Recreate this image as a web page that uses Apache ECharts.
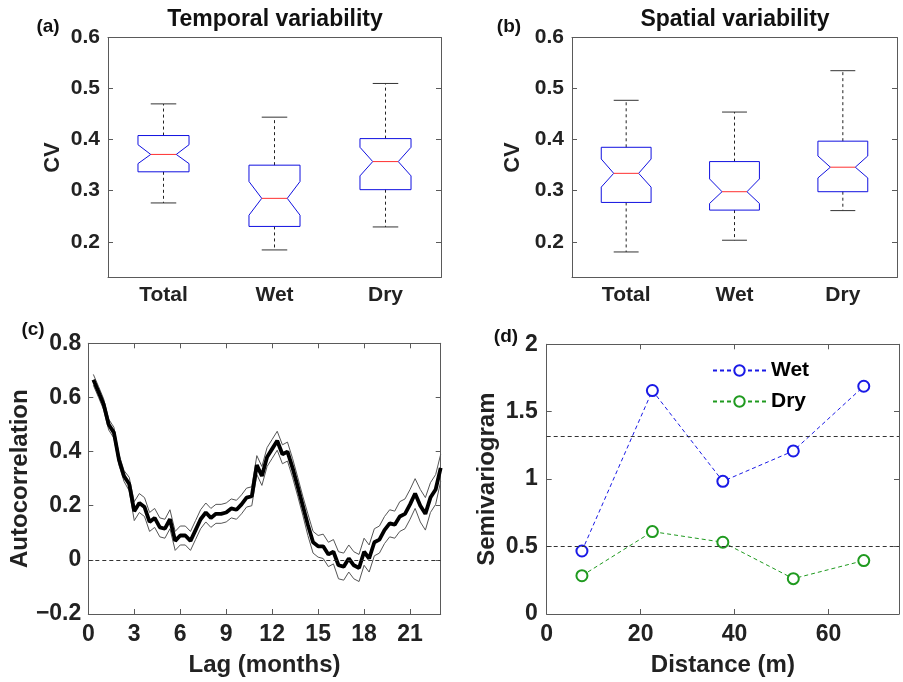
<!DOCTYPE html>
<html><head><meta charset="utf-8">
<script src="https://cdn.jsdelivr.net/npm/echarts@6/dist/echarts.min.js"></script>
<style>html,body{margin:0;padding:0;background:#fff}#c{width:903px;height:682px}</style>
</head><body><div id="c"></div>
<script>
// ---------- DATA ----------
const boxCategories = ['Total', 'Wet', 'Dry'];
// (a) Temporal variability (CV)
const tempLowerWhisker = [0.276, 0.184, 0.229];
const tempQ1           = [0.337, 0.230, 0.302];
const tempNotchLow     = [0.353, 0.252, 0.329];
const tempMedian       = [0.371, 0.285, 0.357];
const tempNotchHigh    = [0.390, 0.318, 0.385];
const tempQ3           = [0.408, 0.350, 0.402];
const tempUpperWhisker = [0.470, 0.444, 0.510];
// (b) Spatial variability (CV)
const spatLowerWhisker = [0.180, 0.203, 0.261];
const spatQ1           = [0.277, 0.262, 0.298];
const spatNotchLow     = [0.307, 0.275, 0.325];
const spatMedian       = [0.334, 0.298, 0.346];
const spatNotchHigh    = [0.362, 0.323, 0.368];
const spatQ3           = [0.385, 0.357, 0.397];
const spatUpperWhisker = [0.477, 0.454, 0.535];
const cvTicks = [0.2, 0.3, 0.4, 0.5, 0.6];

// (c) Autocorrelation vs lag (months)
const lags = [0.33,0.67,1,1.33,1.67,2,2.33,2.67,3,3.33,3.67,4,4.33,4.67,5,5.33,5.67,6,6.33,6.67,7,7.33,7.67,8,8.33,8.67,9,9.33,9.67,10,10.33,10.67,11,11.33,11.67,12,12.33,12.67,13,13.33,13.67,14,14.33,14.67,15,15.33,15.67,16,16.33,16.67,17,17.33,17.67,18,18.33,18.67,19,19.33,19.67,20,20.33,20.67,21,21.33,21.67,22,22.33,22.67,23];
const acfMean = [0.665,0.62,0.575,0.50,0.47,0.37,0.31,0.28,0.18,0.21,0.195,0.14,0.155,0.12,0.115,0.15,0.07,0.09,0.09,0.07,0.11,0.15,0.175,0.155,0.17,0.17,0.175,0.19,0.185,0.205,0.23,0.235,0.35,0.31,0.38,0.41,0.44,0.39,0.40,0.34,0.27,0.20,0.13,0.065,0.05,0.05,0.02,0.03,-0.02,-0.025,0.005,-0.02,-0.03,0.03,0.005,0.065,0.075,0.11,0.135,0.13,0.16,0.17,0.205,0.245,0.20,0.17,0.23,0.26,0.34];
const acfUpper = [0.685,0.64,0.595,0.52,0.49,0.39,0.33,0.305,0.215,0.245,0.23,0.175,0.19,0.155,0.15,0.185,0.105,0.125,0.125,0.105,0.145,0.185,0.21,0.19,0.205,0.205,0.21,0.225,0.22,0.24,0.265,0.27,0.385,0.345,0.415,0.445,0.475,0.425,0.435,0.375,0.305,0.235,0.17,0.105,0.09,0.095,0.065,0.075,0.03,0.025,0.055,0.03,0.02,0.08,0.055,0.115,0.125,0.16,0.185,0.18,0.215,0.225,0.26,0.30,0.26,0.23,0.285,0.315,0.39];
const acfLower = [0.645,0.60,0.555,0.48,0.45,0.35,0.29,0.255,0.145,0.175,0.16,0.105,0.12,0.085,0.08,0.115,0.035,0.055,0.055,0.035,0.075,0.115,0.14,0.12,0.135,0.135,0.14,0.155,0.15,0.17,0.195,0.20,0.315,0.275,0.345,0.375,0.405,0.355,0.365,0.305,0.235,0.165,0.09,0.025,0.01,0.005,-0.025,-0.015,-0.07,-0.075,-0.045,-0.07,-0.08,-0.02,-0.045,0.015,0.025,0.06,0.085,0.08,0.105,0.115,0.15,0.19,0.14,0.11,0.175,0.205,0.29];
const lagTicks = [0, 3, 6, 9, 12, 15, 18, 21];

// (d) Semivariogram vs distance (m)
const distances = [7.5, 22.5, 37.5, 52.5, 67.5];
const wetGamma = [0.467, 1.657, 0.984, 1.209, 1.689];
const dryGamma = [0.284, 0.611, 0.532, 0.262, 0.396];
const sillValues = [1.32, 0.5];
const distTicks = [0, 20, 40, 60];

// ---------- STYLE ----------
const FONT = 'Liberation Sans';
const AX = '#5a5a5a', TXT = '#222';
function lbl(size, extra) { return Object.assign({ color: TXT, fontWeight: 'bold', fontFamily: FONT, fontSize: size }, extra || {}); }

const grids = [
  { left: 108, top: 37.5, width: 333, height: 240 },
  { left: 572, top: 37.5, width: 325, height: 240 },
  { left: 88.3, top: 343.3, width: 352.4, height: 270.7 },
  { left: 546.7, top: 344.3, width: 352.3, height: 269.7 }
];

const axLine = { show: true, onZero: false, lineStyle: { color: AX, width: 1 } };
function tickIn(vals) { const t = { show: true, inside: true, length: 5, lineStyle: { color: AX } }; if (vals) t.customValues = vals; return t; }

const xAxis = [
  { gridIndex: 0, type: 'category', data: boxCategories, position: 'bottom', axisLine: axLine, axisTick: { show: false }, axisLabel: lbl(21, { margin: 7 }), splitLine: { show: false } },
  { gridIndex: 0, type: 'category', data: boxCategories, position: 'top', axisLine: axLine, axisTick: { show: false }, axisLabel: { show: false }, splitLine: { show: false } },
  { gridIndex: 1, type: 'category', data: boxCategories, position: 'bottom', axisLine: axLine, axisTick: { show: false }, axisLabel: lbl(21, { margin: 7 }), splitLine: { show: false } },
  { gridIndex: 1, type: 'category', data: boxCategories, position: 'top', axisLine: axLine, axisTick: { show: false }, axisLabel: { show: false }, splitLine: { show: false } },
  { gridIndex: 2, type: 'value', min: 0, max: 23, position: 'bottom', axisLine: axLine, axisTick: tickIn(lagTicks), axisLabel: lbl(23, { margin: 9, customValues: lagTicks }), splitLine: { show: false },
    name: 'Lag (months)', nameLocation: 'middle', nameGap: 39, nameTextStyle: lbl(24) },
  { gridIndex: 2, type: 'value', min: 0, max: 23, position: 'top', axisLine: axLine, axisTick: tickIn(lagTicks), axisLabel: { show: false }, splitLine: { show: false } },
  { gridIndex: 3, type: 'value', min: 0, max: 75, position: 'bottom', axisLine: axLine, axisTick: tickIn(distTicks), axisLabel: lbl(23, { margin: 9, customValues: distTicks }), splitLine: { show: false },
    name: 'Distance (m)', nameLocation: 'middle', nameGap: 39, nameTextStyle: lbl(24) },
  { gridIndex: 3, type: 'value', min: 0, max: 75, position: 'top', axisLine: axLine, axisTick: tickIn(distTicks), axisLabel: { show: false }, splitLine: { show: false } }
];

const cvFmt = v => v.toFixed(1);
const acfFmt = v => Math.abs(v) < 1e-9 ? '0' : (v < 0 ? '\u2212' : '') + Math.abs(v).toFixed(1);
const yAxis = [
  { gridIndex: 0, type: 'value', min: 0.13, max: 0.6, position: 'left', axisLine: axLine, axisTick: tickIn(cvTicks), axisLabel: lbl(21, { margin: 8, customValues: cvTicks, formatter: cvFmt }), splitLine: { show: false },
    name: 'CV', nameLocation: 'middle', nameGap: 44, nameTextStyle: lbl(22) },
  { gridIndex: 0, type: 'value', min: 0.13, max: 0.6, position: 'right', axisLine: axLine, axisTick: tickIn(cvTicks), axisLabel: { show: false }, splitLine: { show: false } },
  { gridIndex: 1, type: 'value', min: 0.13, max: 0.6, position: 'left', axisLine: axLine, axisTick: tickIn(cvTicks), axisLabel: lbl(21, { margin: 8, customValues: cvTicks, formatter: cvFmt }), splitLine: { show: false },
    name: 'CV', nameLocation: 'middle', nameGap: 48, nameTextStyle: lbl(22) },
  { gridIndex: 1, type: 'value', min: 0.13, max: 0.6, position: 'right', axisLine: axLine, axisTick: tickIn(cvTicks), axisLabel: { show: false }, splitLine: { show: false } },
  { gridIndex: 2, type: 'value', min: -0.2, max: 0.8, interval: 0.2, position: 'left', axisLine: axLine, axisTick: tickIn(), axisLabel: lbl(23, { margin: 7, formatter: acfFmt }), splitLine: { show: false },
    name: 'Autocorrelation', nameLocation: 'middle', nameGap: 52, nameTextStyle: lbl(24) },
  { gridIndex: 2, type: 'value', min: -0.2, max: 0.8, interval: 0.2, position: 'right', axisLine: axLine, axisTick: tickIn(), axisLabel: { show: false }, splitLine: { show: false } },
  { gridIndex: 3, type: 'value', min: 0, max: 2, interval: 0.5, position: 'left', axisLine: axLine, axisTick: tickIn(), axisLabel: lbl(23, { margin: 9 }), splitLine: { show: false },
    name: 'Semivariogram', nameLocation: 'middle', nameGap: 47, nameTextStyle: lbl(24) },
  { gridIndex: 3, type: 'value', min: 0, max: 2, interval: 0.5, position: 'right', axisLine: axLine, axisTick: tickIn(), axisLabel: { show: false }, splitLine: { show: false } }
];

function boxRows(lw, q1, nl, med, nh, q3, uw) {
  return boxCategories.map((c, i) => [i, lw[i], q1[i], nl[i], med[i], nh[i], q3[i], uw[i]]);
}
function boxRender(params, api) {
  const i = api.value(0);
  const y = k => api.coord([i, api.value(k)])[1];
  const cx = api.coord([i, api.value(4)])[0];
  const bw = api.size([1, 0])[0];
  const h = bw * 0.23, n = h * 0.5;
  const yLW = y(1), yQ1 = y(2), yNL = y(3), yMed = y(4), yNH = y(5), yQ3 = y(6), yUW = y(7);
  const wk = { stroke: '#222', lineWidth: 1, lineDash: [3, 3] };
  const cap = { stroke: '#333', lineWidth: 1 };
  return { type: 'group', children: [
    { type: 'line', shape: { x1: cx, y1: yQ3, x2: cx, y2: yUW }, style: wk },
    { type: 'line', shape: { x1: cx, y1: yQ1, x2: cx, y2: yLW }, style: wk },
    { type: 'line', shape: { x1: cx - n, y1: yUW, x2: cx + n, y2: yUW }, style: cap },
    { type: 'line', shape: { x1: cx - n, y1: yLW, x2: cx + n, y2: yLW }, style: cap },
    { type: 'polygon', shape: { points: [[cx - h, yQ3], [cx + h, yQ3], [cx + h, yNH], [cx + n, yMed], [cx + h, yNL], [cx + h, yQ1], [cx - h, yQ1], [cx - h, yNL], [cx - n, yMed], [cx - h, yNH]] },
      style: { fill: 'none', stroke: '#1010e0', lineWidth: 1 } },
    { type: 'line', shape: { x1: cx - n, y1: yMed, x2: cx + n, y2: yMed }, style: { stroke: '#ff3030', lineWidth: 1 } }
  ] };
}

const series = [
  { type: 'custom', xAxisIndex: 0, yAxisIndex: 0, renderItem: boxRender, silent: true,
    encode: { x: 0, y: [1, 2, 3, 4, 5, 6, 7] },
    data: boxRows(tempLowerWhisker, tempQ1, tempNotchLow, tempMedian, tempNotchHigh, tempQ3, tempUpperWhisker) },
  { type: 'custom', xAxisIndex: 2, yAxisIndex: 2, renderItem: boxRender, silent: true,
    encode: { x: 0, y: [1, 2, 3, 4, 5, 6, 7] },
    data: boxRows(spatLowerWhisker, spatQ1, spatNotchLow, spatMedian, spatNotchHigh, spatQ3, spatUpperWhisker) },
  { type: 'line', xAxisIndex: 4, yAxisIndex: 4, symbol: 'none', silent: true,
    lineStyle: { color: '#555', width: 1 }, data: lags.map((x, i) => [x, acfUpper[i]]) },
  { type: 'line', xAxisIndex: 4, yAxisIndex: 4, symbol: 'none', silent: true,
    lineStyle: { color: '#555', width: 1 }, data: lags.map((x, i) => [x, acfLower[i]]) },
  { type: 'line', xAxisIndex: 4, yAxisIndex: 4, symbol: 'none', silent: true,
    lineStyle: { color: '#000', width: 3.8 }, data: lags.map((x, i) => [x, acfMean[i]]),
    markLine: { silent: true, symbol: 'none', label: { show: false }, lineStyle: { color: '#333', type: [4, 3], width: 1 }, data: [{ yAxis: 0 }] } },
  { type: 'line', name: 'Wet', xAxisIndex: 6, yAxisIndex: 6, symbol: 'emptyCircle', symbolSize: 11, silent: true,
    lineStyle: { color: '#1a1ae6', width: 1, type: [4, 3] }, itemStyle: { color: '#1a1ae6', borderWidth: 1 },
    data: distances.map((d, i) => [d, wetGamma[i]]),
    markLine: { silent: true, symbol: 'none', label: { show: false }, lineStyle: { color: '#333', type: [4, 3], width: 1 },
      data: sillValues.map(v => ({ yAxis: v })) } },
  { type: 'line', name: 'Dry', xAxisIndex: 6, yAxisIndex: 6, symbol: 'emptyCircle', symbolSize: 11, silent: true,
    lineStyle: { color: '#1f9a1f', width: 1, type: [4, 3] }, itemStyle: { color: '#1f9a1f', borderWidth: 1 },
    data: distances.map((d, i) => [d, dryGamma[i]]) }
];

function txt(x, y, s, size) {
  return { type: 'text', x: x, y: y, silent: true,
    style: { text: s, fill: '#111', font: 'bold ' + size + 'px "' + FONT + '"', textAlign: 'center', textVerticalAlign: 'middle' } };
}

const chart = echarts.init(document.getElementById('c'), null, { renderer: 'canvas' });
chart.setOption({
  animation: false,
  backgroundColor: '#fff',
  grid: grids,
  xAxis: xAxis,
  yAxis: yAxis,
  legend: { data: ['Wet', 'Dry'], orient: 'vertical', left: 707, top: 355, itemWidth: 53, itemHeight: 13, itemGap: 10,
    textStyle: lbl(21, { color: '#000' }) },
  graphic: [
    txt(275, 20, 'Temporal variability', 23),
    txt(735, 20, 'Spatial variability', 23),
    txt(48, 27, '(a)', 19),
    txt(509, 27, '(b)', 19),
    txt(33, 330, '(c)', 19),
    txt(506, 337, '(d)', 19)
  ],
  series: series
});
</script>
</body></html>
